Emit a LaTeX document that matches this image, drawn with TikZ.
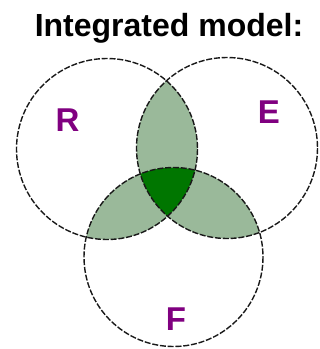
\documentclass[tikz,border=0pt]{standalone}
\usepackage{fontspec}
\setmainfont{Liberation Sans}
\definecolor{lensgreen}{RGB}{154,185,154}
\definecolor{coregreen}{RGB}{0,118,0}
\definecolor{letterpurple}{RGB}{128,0,128}
\tikzset{
  venn/.style={draw=black!90, line width=1.4pt, dash pattern=on 6pt off 1.8pt},
  setlabel/.style={inner sep=0pt, text=letterpurple, font=\fontsize{33}{36}\selectfont\bfseries},
  title/.style={inner sep=0pt, anchor=base, font=\fontsize{32}{36}\selectfont\bfseries}
}
\begin{document}
\begin{tikzpicture}[x=1pt,y=-1pt]
\useasboundingbox (0,0) rectangle (320,349);
\coordinate (cR) at (107,149);
\coordinate (cE) at (227,148);
\coordinate (cF) at (173.5,257);
\def\rR{90.5}
\def\rE{90.5}
\def\rF{89.5}
% pairwise lenses
\begin{scope}
  \clip (cR) circle[radius=\rR];
  \fill[lensgreen] (cE) circle[radius=\rE];
  \fill[lensgreen] (cF) circle[radius=\rF];
\end{scope}
\begin{scope}
  \clip (cE) circle[radius=\rE];
  \fill[lensgreen] (cF) circle[radius=\rF];
\end{scope}
% triple core
\begin{scope}
  \clip (cR) circle[radius=\rR];
  \clip (cE) circle[radius=\rE];
  \fill[coregreen] (cF) circle[radius=\rF];
\end{scope}
% outlines
\draw[venn] (cR) circle[radius=\rR];
\draw[venn] (cE) circle[radius=\rE];
\draw[venn] (cF) circle[radius=\rF];
% labels
\node[title] (t) at (169,36) {Integrated model:};
\node[setlabel] (R) at (67.5,120) {R};
\node[setlabel] (E) at (269,112.5) {E};
\node[setlabel] (F) at (176,319.5) {F};
\end{tikzpicture}
\end{document}
